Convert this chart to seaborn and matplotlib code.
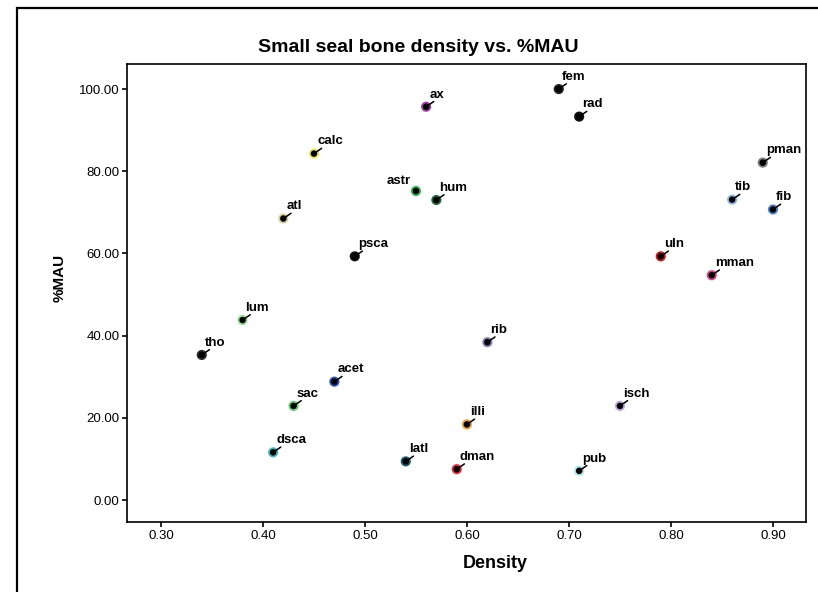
import matplotlib
matplotlib.use("Agg")
import matplotlib.pyplot as plt
from matplotlib import font_manager
from matplotlib.patches import Rectangle
import seaborn as sns
import pandas as pd

# ---- data ----
bones = ['fem', 'rad', 'ax', 'calc', 'pman', 'astr', 'hum', 'tib', 'fib', 'atl',
         'psca', 'uln', 'mman', 'lum', 'rib', 'tho', 'acet', 'sac', 'isch', 'illi',
         'dsca', 'latl', 'dman', 'pub']
density = [0.69, 0.71, 0.56, 0.45, 0.89, 0.55, 0.57, 0.86, 0.90, 0.42,
           0.49, 0.79, 0.84, 0.38, 0.62, 0.34, 0.47, 0.43, 0.75, 0.60,
           0.41, 0.54, 0.59, 0.71]
mau = [100.0, 93.3, 95.7, 84.3, 82.1, 75.2, 73.0, 73.1, 70.7, 68.5,
       59.3, 59.3, 54.7, 43.8, 38.4, 35.3, 28.8, 22.9, 22.9, 18.4,
       11.6, 9.4, 7.5, 7.1]
xticks = [0.30, 0.40, 0.50, 0.60, 0.70, 0.80, 0.90]
yticks = [0.0, 20.0, 40.0, 60.0, 80.0, 100.0]

# ---- styles ----
edge_colors = ['#202020', '#101010', '#a03aa8', '#ede84a', '#7a7a7a', '#2fb34a',
               '#1e6b3c', '#8ab8e8', '#4d85cc', '#d9cf98', '#111111', '#c41a1a',
               '#e0408a', '#8ee38e', '#7d7fb5', '#2a2a2a', '#2b4fc0', '#5ccf6a',
               '#c3a5e6', '#f0a02a', '#3ab8c4', '#1c5878', '#e8283a', '#a8e4ec']

sns.set_style("white")
available = {f.name for f in font_manager.fontManager.ttflist}
base_font = 'Liberation Sans' if 'Liberation Sans' in available else 'DejaVu Sans'
plt.rcParams['font.family'] = [base_font, 'DejaVu Sans']
plt.rcParams['text.color'] = 'black'
plt.rcParams['axes.labelcolor'] = 'black'
plt.rcParams['xtick.color'] = 'black'
plt.rcParams['ytick.color'] = 'black'

df = pd.DataFrame({'bone': bones, 'Density': density, '%MAU': mau})

fig = plt.figure(figsize=(8.18, 5.92), dpi=100)
ax = fig.add_axes([127/818, 1-522/592, (806-127)/818, (522-64)/592])

sns.scatterplot(data=df, x='Density', y='%MAU', color='black',
                edgecolor=edge_colors, linewidth=1.3, s=36, legend=False,
                ax=ax, zorder=3)

for b, x, y in zip(bones, density, mau):
    if b == 'astr':
        ax.annotate(b, xy=(x, y), xytext=(-4, 7.5), textcoords='offset points',
                    ha='right', va='center', fontsize=9.5, fontweight='bold',
                    color='black')
        continue
    ax.annotate('', xy=(x, y), xytext=(5.5, 3.8), textcoords='offset points',
                arrowprops=dict(arrowstyle='-', color='black', lw=1.1,
                                shrinkA=0, shrinkB=0))
    ax.annotate(b, xy=(x, y), xytext=(2.2, 8.8), textcoords='offset points',
                ha='left', va='center', fontsize=9.5, fontweight='bold',
                color='black')

ax.set_xlim(0.2667, 0.9324)
ax.set_ylim(-5.35, 106.1)
ax.set_xticks(xticks)
ax.set_xticklabels([f"{v:.2f}" for v in xticks])
ax.set_yticks(yticks)
ax.set_yticklabels([f"{v:.2f}" for v in yticks])
ax.tick_params(axis='both', which='major', direction='out', length=3.5,
               width=1.2, color='black', labelsize=9.5, labelcolor='black',
               left=True, bottom=True, pad=2)
for sp in ax.spines.values():
    sp.set_visible(True)
    sp.set_color('black')
    sp.set_linewidth(1.2)

ax.set_xlabel('Density', fontsize=13, fontweight='bold', color='black')
ax.xaxis.label.set_va('center')
ax.xaxis.set_label_coords((495-127)/679, (522-563)/458)
ax.set_ylabel('%MAU', fontsize=11, fontweight='bold', color='black')
ax.yaxis.label.set_va('center')
ax.yaxis.set_label_coords((60-127)/679, (522-278)/458)

fig.text(418/818, 1-48/592, 'Small seal bone density vs. %MAU', ha='center',
         va='center', fontsize=14, fontweight='bold', color='black')

# outer chart frame (top and left edges visible)
fig.add_artist(Rectangle((17/818, -0.2), 1.5, 1.2 - 8/592, transform=fig.transFigure,
                         fill=False, edgecolor='black', linewidth=1.6, clip_on=False))

fig.savefig('out.png', dpi=100, facecolor='white')
